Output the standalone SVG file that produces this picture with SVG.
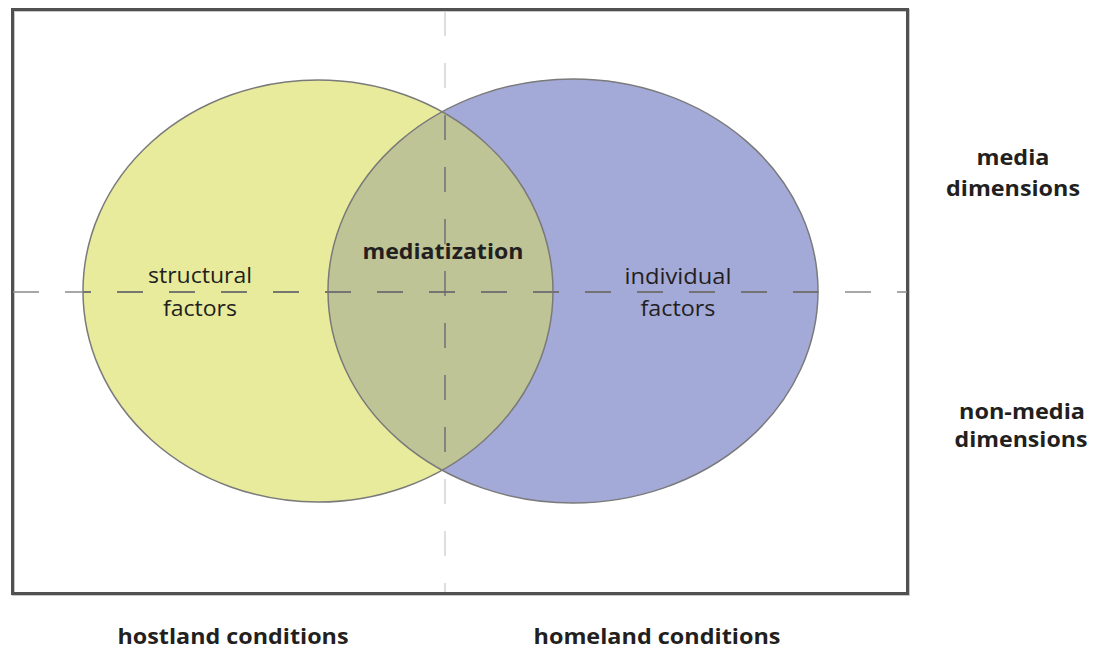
<svg xmlns="http://www.w3.org/2000/svg" width="1098" height="649" viewBox="0 0 1098 649">
<style>
.lbl{font-family:"Open Sans","Liberation Sans",sans-serif;font-size:21px;fill:#231f20;text-anchor:middle}
.b{font-weight:bold}
.dash{fill:none;stroke-width:1.5}
.circ{stroke:#7a7a7a;stroke-width:1.5}
</style>
<defs>
<clipPath id="blueClip"><ellipse cx="573" cy="291" rx="245" ry="212"/></clipPath>
<clipPath id="unionClip">
<ellipse cx="318" cy="291" rx="235" ry="211"/>
<ellipse cx="573" cy="291" rx="245" ry="212"/>
</clipPath>
</defs>
<rect x="0" y="0" width="1098" height="649" fill="#ffffff"/>
<g id="frame">
<rect x="13.5" y="10.5" width="895" height="584" fill="none" stroke="#c8c8c8" stroke-width="3"/>
<rect x="12.5" y="9.5" width="895" height="584" fill="none" stroke="#505050" stroke-width="3"/>
</g>
<g id="node-structural">
<ellipse cx="318" cy="291" rx="235" ry="211" fill="#e8eb9b"/>
</g>
<g id="node-individual">
<ellipse cx="573" cy="291" rx="245" ry="212" fill="#a4aad8"/>
</g>
<g id="node-mediatization">
<ellipse cx="318" cy="291" rx="235" ry="211" fill="#bfc497" clip-path="url(#blueClip)"/>
</g>
<g id="outlines">
<ellipse class="circ" cx="318" cy="291" rx="235" ry="211" fill="none"/>
<ellipse class="circ" cx="573" cy="291" rx="245" ry="212" fill="none"/>
</g>
<g id="connectors">
<line class="dash" x1="445" y1="11" x2="445" y2="592" stroke="#d4d4d4" stroke-dasharray="25 27"/>
<line class="dash" x1="13" y1="292" x2="907" y2="292" stroke="#8a8a8a" stroke-dasharray="26 26"/>
<g clip-path="url(#unionClip)">
<line class="dash" x1="445" y1="11" x2="445" y2="592" stroke="#6a6a6a" stroke-dasharray="25 27"/>
<line class="dash" x1="13" y1="292" x2="907" y2="292" stroke="#6a6a6a" stroke-dasharray="26 26"/>
</g>
</g>
<g id="labels">
<text class="lbl" x="200" y="283" textLength="104" lengthAdjust="spacingAndGlyphs">structural</text>
<text class="lbl" x="200" y="316" textLength="74" lengthAdjust="spacingAndGlyphs">factors</text>
<text class="lbl" x="678" y="284" textLength="107" lengthAdjust="spacingAndGlyphs">individual</text>
<text class="lbl" x="678" y="316" textLength="75" lengthAdjust="spacingAndGlyphs">factors</text>
<text class="lbl b" x="443" y="259" textLength="161" lengthAdjust="spacingAndGlyphs">mediatization</text>
<text class="lbl b" x="1013" y="165" textLength="73" lengthAdjust="spacingAndGlyphs">media</text>
<text class="lbl b" x="1013" y="196" textLength="134" lengthAdjust="spacingAndGlyphs">dimensions</text>
<text class="lbl b" x="1022" y="419" textLength="126" lengthAdjust="spacingAndGlyphs">non-media</text>
<text class="lbl b" x="1021" y="447" textLength="133" lengthAdjust="spacingAndGlyphs">dimensions</text>
<text class="lbl b" x="233" y="644" textLength="231" lengthAdjust="spacingAndGlyphs">hostland conditions</text>
<text class="lbl b" x="657" y="644" textLength="247" lengthAdjust="spacingAndGlyphs">homeland conditions</text>
</g>
</svg>
